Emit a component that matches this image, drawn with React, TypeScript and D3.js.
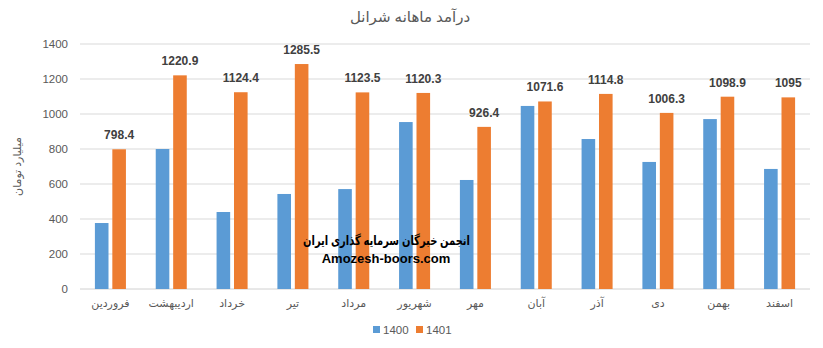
import React from "react";
import * as d3 from "d3";

const months = ["فروردین", "اردیبهشت", "خرداد", "تیر", "مرداد", "شهریور", "مهر", "آبان", "آذر", "دی", "بهمن", "اسفند"];
const series = ["1400", "1401"];
const values1400 = [377, 800, 440, 543, 571, 954, 623, 1046, 857, 726, 971, 686];
const values1401 = [798.4, 1220.9, 1124.4, 1285.5, 1123.5, 1120.3, 926.4, 1071.6, 1114.8, 1006.3, 1098.9, 1095];
const yTicks = [0, 200, 400, 600, 800, 1000, 1200, 1400];
const colors = ["#5B9BD5", "#ED7D31"];

const W = 823;
const H = 348;
const FONT = "'Liberation Sans', 'DejaVu Sans', Arial, sans-serif";

export default function App() {
  const x0 = d3.scaleBand<string>().domain(months).range([80, 810]);
  const bw = x0.bandwidth();
  const x1 = d3
    .scaleBand<string>()
    .domain(series)
    .range([bw * 0.245, bw * 0.755])
    .paddingInner(0.22);
  const y = d3.scaleLinear().domain([0, 1400]).range([289, 44]);
  const data = [values1400, values1401];

  return (
    <svg width={W} height={H} style={{ position: "absolute", left: 0, top: 0, background: "#fff" }} fontFamily={FONT}>
      <rect x={0} y={0} width={W} height={H} fill="#fff" />
      <text x={410} y={22} textAnchor="middle" fontSize={15} fill="#595959">
        درآمد ماهانه شرانل
      </text>
      {yTicks.map((t) => (
        <g key={t}>
          <line x1={80} x2={810} y1={y(t)} y2={y(t)} stroke={t === 0 ? "#D0D0D0" : "#D9D9D9"} strokeWidth={1} />
          <text x={68} y={y(t) + 4} textAnchor="end" fontSize={11.5} fill="#595959">
            {t}
          </text>
        </g>
      ))}
      <text
        transform={`translate(21, ${y(700)}) rotate(-90)`}
        textAnchor="middle"
        fontSize={11}
        fill="#595959"
      >
        میلیارد تومان
      </text>
      {months.map((m, i) => (
        <g key={m} transform={`translate(${x0(m)},0)`}>
          {series.map((s, j) => (
            <rect
              key={s}
              x={x1(s)}
              y={y(data[j][i])}
              width={x1.bandwidth()}
              height={y(0) - y(data[j][i])}
              fill={colors[j]}
            />
          ))}
          <text
            x={(x1("1401") as number) + x1.bandwidth() / 2}
            y={y(values1401[i]) - 10}
            textAnchor="middle"
            fontSize={12}
            fontWeight="bold"
            fill="#404040"
          >
            {values1401[i]}
          </text>
          <text x={bw / 2} y={307} textAnchor="middle" fontSize={11} fill="#595959">
            {m}
          </text>
        </g>
      ))}
      <text
        x={303}
        y={245}
        fontSize={13}
        fontWeight="bold"
        fill="#000"
        textLength={167}
        lengthAdjust="spacingAndGlyphs"
      >
        انجمن خبرگان سرمایه گذاری ایران
      </text>
      <text x={386} y={263} textAnchor="middle" fontSize={13} fontWeight="bold" fill="#000">
        Amozesh-boors.com
      </text>
      <g>
        <rect x={373} y={326} width={7} height={7} fill={colors[0]} />
        <text x={383} y={334} fontSize={11.5} fill="#595959">1400</text>
        <rect x={416} y={326} width={7} height={7} fill={colors[1]} />
        <text x={426} y={334} fontSize={11.5} fill="#595959">1401</text>
      </g>
    </svg>
  );
}
